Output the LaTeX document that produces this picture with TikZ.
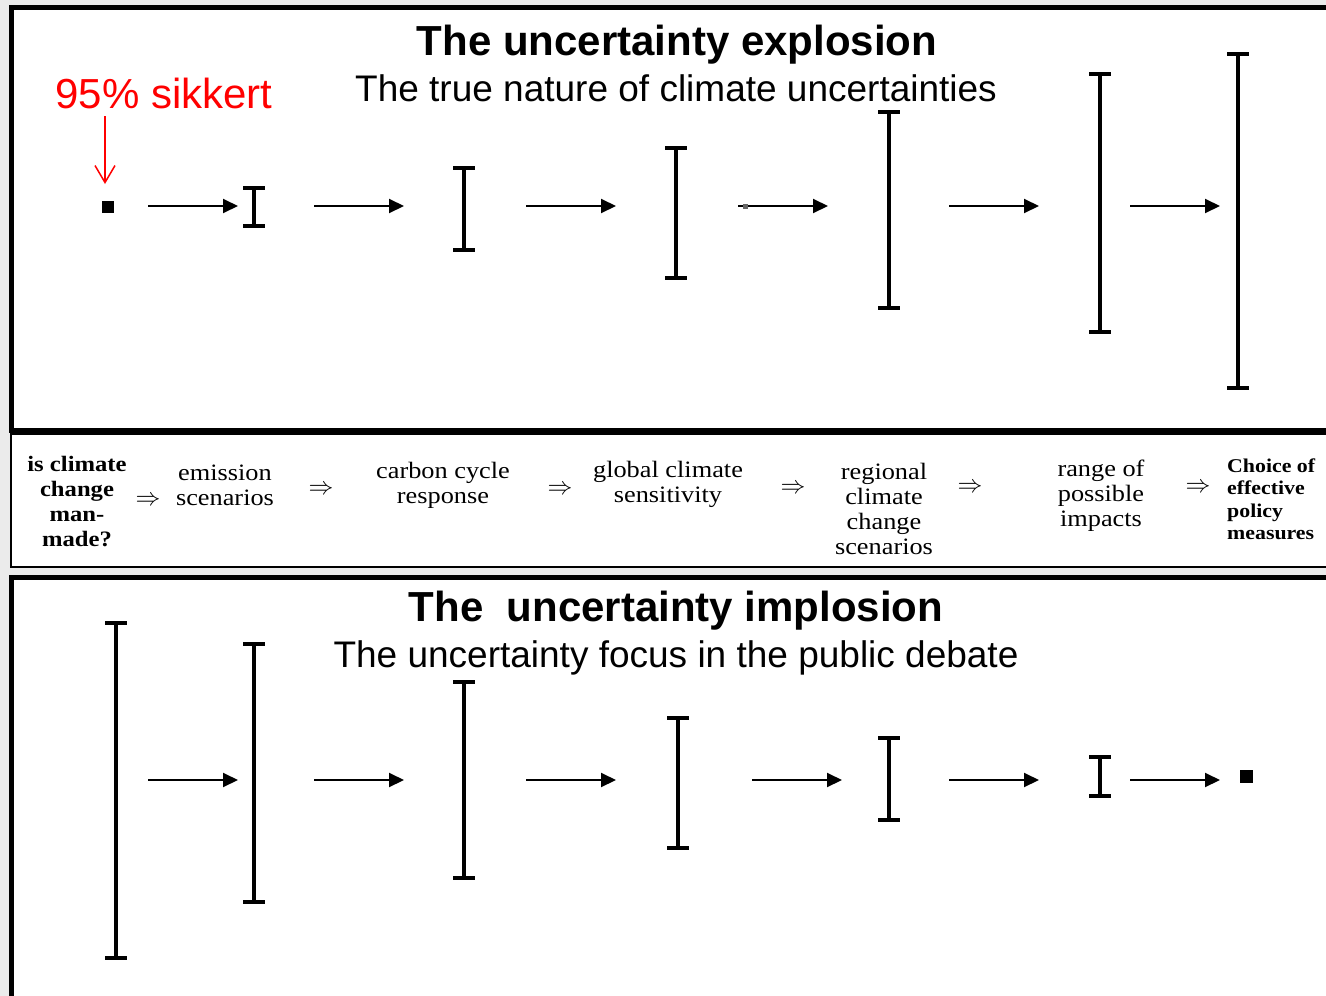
\documentclass[tikz,border=0pt]{standalone}
\usepackage{fontspec}
\setmainfont{Liberation Sans}
\newfontfamily\rowserif[FakeStretch=1.12]{Liberation Serif}
\usetikzlibrary{arrows.meta}

\begin{document}
\begin{tikzpicture}[x=1pt, y=-1pt]
    % --- COLOURS ---
    \definecolor{myRed}{RGB}{255, 0, 0}
    \definecolor{myGray}{RGB}{235, 235, 235}

    % --- STYLES ---
    \tikzset{
        panelBox/.style={draw=black, fill=white, line width=5pt},
        rowBox/.style={draw=black, fill=white, line width=2pt},
        titleNode/.style={anchor=base, inner sep=0pt, font=\fontsize{42}{48}\selectfont\bfseries},
        subtitleNode/.style={anchor=base, inner sep=0pt, font=\fontsize{37}{44}\selectfont},
        stageNode/.style={align=center, inner sep=0pt, font=\rowserif\fontsize{23.5}{25}\selectfont},
        boldStage/.style={stageNode, font=\rowserif\fontsize{22}{25}\selectfont\bfseries},
        impliesNode/.style={inner sep=0pt, font=\fontsize{25}{25}\selectfont},
        flowArrow/.style={-{Triangle[length=15pt, width=14pt]}, line width=2pt},
        noteArrow/.style={-{Straight Barb[length=17pt, width=20pt]}, draw=myRed, line width=1.5pt},
        dotNode/.style={fill=black, inner sep=0pt, minimum size=12pt},
        pics/ibar/.style args={#1/#2}{code={
            \draw[line width=4.5pt] (0,#1) -- (0,#2);
            \draw[line width=4.5pt] (-11,#1) -- (11,#1);
            \draw[line width=4.5pt] (-11,#2) -- (11,#2);
        }}
    }

    % --- BACKGROUND AND PANELS ---
    \fill[myGray] (0,0) rectangle (1326,996);
    \useasboundingbox (0,0) rectangle (1326,996);
    \draw[panelBox] (11.5,7.5) rectangle (1345,430);
    \draw[rowBox] (11,434) rectangle (1345,567);
    \draw[panelBox] (11.5,577.5) rectangle (1345,1010);

    % --- TOP PANEL: EXPLOSION ---
    \node[titleNode] (expTitle) at (677,55) {The uncertainty explosion};
    \node[subtitleNode] (expSub) at (676,101) {The true nature of climate uncertainties};
    \node[anchor=base, inner sep=0pt, text=myRed, font=\fontsize{42}{48}\selectfont] (sure) at (164,108) {95\% sikkert};

    % point and growing error bars
    \node[dotNode] (e0) at (108,207) {};
    \pic at (254,0) {ibar=188/226};
    \pic at (464,0) {ibar=168/250};
    \pic at (676,0) {ibar=148/278};
    \pic at (889,0) {ibar=112/308};
    \pic at (1100,0) {ibar=74/332};
    \pic at (1238,0) {ibar=54/388};

    % arrows
    \coordinate (noteTail) at (105,116);
    \coordinate (noteTip) at (105,184);
    \draw[noteArrow] (noteTail) -- (noteTip);

    \coordinate (ea1) at (148,206);  \coordinate (eb1) at (238,206);
    \coordinate (ea2) at (314,206);  \coordinate (eb2) at (404,206);
    \coordinate (ea3) at (526,206);  \coordinate (eb3) at (616,206);
    \coordinate (ea4) at (738,206);  \coordinate (eb4) at (828,206);
    \coordinate (ea5) at (949,206);  \coordinate (eb5) at (1039,206);
    \coordinate (ea6) at (1130,206); \coordinate (eb6) at (1220,206);
    \draw[flowArrow] (ea1) -- (eb1);
    \draw[flowArrow] (ea2) -- (eb2);
    \draw[flowArrow] (ea3) -- (eb3);
    \draw[flowArrow] (ea4) -- (eb4);
    \draw[flowArrow] (ea5) -- (eb5);
    \draw[flowArrow] (ea6) -- (eb6);
    \node[fill=black!60, inner sep=0pt, minimum size=5pt] (speck) at (745,206) {};

    % --- MIDDLE ROW: CAUSE CHAIN ---
    \node[boldStage] (s1) at (77,502) {is climate\\change\\man-\\made?};
    \node[impliesNode] (r1) at (148,501) {$\Rightarrow$};
    \node[stageNode] (s2) at (225,485) {emission\\scenarios};
    \node[impliesNode] (r2) at (321,490) {$\Rightarrow$};
    \node[stageNode] (s3) at (443,485) {carbon cycle\\response};
    \node[impliesNode] (r3) at (560,490) {$\Rightarrow$};
    \node[stageNode] (s4) at (668,484) {global climate\\sensitivity};
    \node[impliesNode] (r4) at (793,489) {$\Rightarrow$};
    \node[stageNode] (s5) at (884,509) {regional\\climate\\change\\scenarios};
    \node[impliesNode] (r5) at (970,488) {$\Rightarrow$};
    \node[stageNode] (s6) at (1101,496) {range of\\possible\\impacts};
    \node[impliesNode] (r6) at (1198,488) {$\Rightarrow$};
    \node[boldStage, align=left, anchor=west, font=\rowserif\fontsize{19.5}{22.5}\selectfont\bfseries] (s7) at (1227,499) {Choice of\\effective\\policy\\measures};

    % --- BOTTOM PANEL: IMPLOSION ---
    \node[titleNode] (impTitle) at (676,621) {The~~uncertainty implosion};
    \node[subtitleNode] (impSub) at (676,667) {The uncertainty focus in the public debate};

    % shrinking error bars and point
    \pic at (116,0) {ibar=623/958};
    \pic at (254,0) {ibar=644/902};
    \pic at (464,0) {ibar=682/878};
    \pic at (678,0) {ibar=718/848};
    \pic at (889,0) {ibar=738/820};
    \pic at (1100,0) {ibar=757/796};
    \node[dotNode, minimum size=13pt] (i0) at (1246,776) {};

    % arrows
    \coordinate (ia1) at (148,780);  \coordinate (ib1) at (238,780);
    \coordinate (ia2) at (314,780);  \coordinate (ib2) at (404,780);
    \coordinate (ia3) at (526,780);  \coordinate (ib3) at (616,780);
    \coordinate (ia4) at (752,780);  \coordinate (ib4) at (842,780);
    \coordinate (ia5) at (949,780);  \coordinate (ib5) at (1039,780);
    \coordinate (ia6) at (1130,780); \coordinate (ib6) at (1220,780);
    \draw[flowArrow] (ia1) -- (ib1);
    \draw[flowArrow] (ia2) -- (ib2);
    \draw[flowArrow] (ia3) -- (ib3);
    \draw[flowArrow] (ia4) -- (ib4);
    \draw[flowArrow] (ia5) -- (ib5);
    \draw[flowArrow] (ia6) -- (ib6);
\end{tikzpicture}
\end{document}
